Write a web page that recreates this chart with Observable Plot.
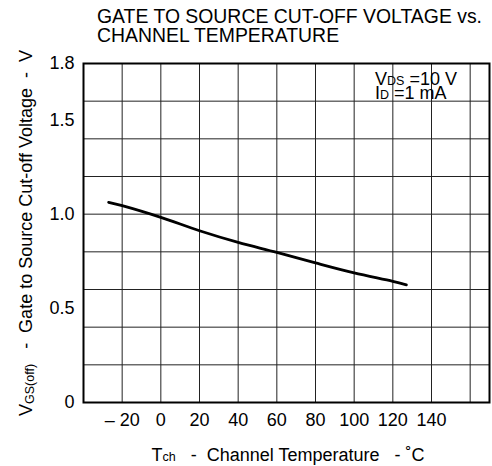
<!DOCTYPE html>
<html>
<head>
<meta charset="utf-8">
<script src="https://cdn.jsdelivr.net/npm/d3@7"></script>
<script src="https://cdn.jsdelivr.net/npm/@observablehq/plot@0.6"></script>
<style>
  html, body { margin: 0; padding: 0; background: #fff; }
  svg { display: block; }
</style>
</head>
<body>
<div id="chart"></div>
<script>
// Data
const temperature = [-27, -20, 0, 20, 40, 60, 80, 100, 120, 127];
const vgsOff      = [1.063, 1.045, 0.983, 0.912, 0.850, 0.797, 0.741, 0.688, 0.643, 0.625];
const xTicks = [-20, 0, 20, 40, 60, 80, 100, 120, 140];
const yTicks = [0, 0.5, 1.0, 1.5, 1.8];
const xGrid = [-20, 0, 20, 40, 60, 80, 100, 120, 140, 160];
const yGrid = [0.2, 0.4, 0.6, 0.8, 1.0, 1.2, 1.4, 1.6];
const titleLines = ["GATE TO SOURCE CUT-OFF VOLTAGE vs.", "CHANNEL TEMPERATURE"];

const data = temperature.map((t, i) => ({t, v: vgsOff[i]}));

const svg = Plot.plot({
  width: 492,
  height: 466,
  marginLeft: 83,
  marginRight: 3,
  marginTop: 63,
  marginBottom: 64,
  style: {fontFamily: "'Liberation Sans', Arial, sans-serif", fontSize: "18px", color: "#000", background: "#fff"},
  x: {domain: [-40, 170]},
  y: {domain: [0, 1.8]},
  marks: [
    Plot.ruleX(xGrid, {stroke: "#222", strokeWidth: 1}),
    Plot.ruleY(yGrid, {stroke: "#222", strokeWidth: 1}),
    Plot.line(data, {x: "t", y: "v", stroke: "#000", strokeWidth: 2.8, curve: "catmull-rom"}),
    Plot.frame({stroke: "#000", strokeWidth: 2}),
    Plot.axisX(xTicks, {tickSize: 0, tickPadding: 11, label: null, fontSize: 18,
      tickFormat: d => d < 0 ? "\u2013 " + Math.abs(d) : String(d)}),
    Plot.axisY(yTicks, {tickSize: 0, tickPadding: 9, label: null, fontSize: 18,
      tickFormat: d => d === 0 ? "0" : d.toFixed(1)})
  ]
});

document.getElementById("chart").appendChild(svg);

const root = d3.select(svg);
const ff = "'Liberation Sans', Arial, sans-serif";

function addText(x, y, str, size, anchor = "start") {
  return root.append("text").attr("font-family", ff).attr("font-size", size)
    .attr("fill", "#000").attr("text-anchor", anchor).attr("x", x).attr("y", y).text(str);
}

// Title
addText(97, 23, titleLines[0], 19.4);
addText(97, 41.5, titleLines[1], 19.4);

// Conditions annotation (separate pieces laid out side by side)
function addRun(x, y, parts) {
  let cx = x;
  for (const [str, size] of parts) {
    const t = addText(cx, y, str, size);
    cx += t.node().getComputedTextLength();
  }
}
addRun(375, 85, [["V", 18], ["DS", 12.5], ["\u00a0=10 V", 18]]);
addRun(375, 98.5, [["I", 18], ["D", 12.5], ["\u00a0=1 mA", 18]]);

// X axis label
const xl = root.append("text").attr("font-family", ff).attr("font-size", 18)
  .attr("x", 288).attr("y", 461).attr("text-anchor", "middle");
xl.append("tspan").text("T");
xl.append("tspan").attr("font-size", 12.5).text("ch");
xl.append("tspan").text("\u00a0\u00a0\u00a0-\u00a0\u00a0Channel Temperature\u00a0\u00a0\u00a0-\u00a0\u02daC");

// Y axis label
const yl = root.append("text").attr("font-family", ff).attr("font-size", 18)
  .attr("transform", "translate(32,233) rotate(-90)").attr("text-anchor", "middle");
yl.append("tspan").text("V");
yl.append("tspan").attr("font-size", 12.5).attr("dy", 2).text("GS(off)");
yl.append("tspan").attr("dy", -2).text("\u00a0\u00a0\u00a0-\u00a0\u00a0Gate to Source Cut-off Voltage\u00a0\u00a0-\u00a0\u00a0V");
</script>
</body>
</html>
